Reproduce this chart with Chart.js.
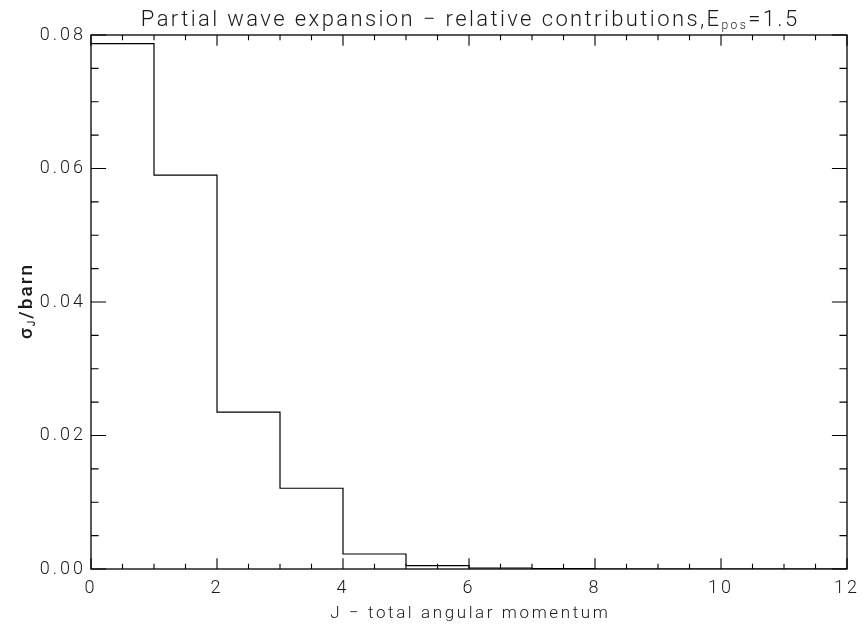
<!DOCTYPE html>
<html>
<head>
<meta charset="utf-8">
<script src="https://cdn.jsdelivr.net/npm/chart.js@4/dist/chart.umd.min.js"></script>
<style>
  html, body { margin: 0; padding: 0; background: #fff; }
</style>
</head>
<body>
<canvas id="c" width="866" height="624"></canvas>
<script>
// Partial-wave cross sections sigma_J (barn) for total angular momentum J
const jEdges = [0, 1, 2, 3, 4, 5, 6, 7, 8, 9, 10, 11, 12];
const sigmaJ = [0.0787, 0.0590, 0.0235, 0.0121, 0.00225, 0.0005, 0.00015, 0.00005, 0, 0, 0, 0];
const xTickLabels = ['0', '2', '4', '6', '8', '10', '12'];
const yTickLabels = ['0.00', '0.02', '0.04', '0.06', '0.08'];
const titleHead = 'Partial wave expansion \u2212 relative contributions,E';
const titleSub = 'pos';
const titleTail = '=1.5';
const xTitle = 'J \u2212 total angular momentum';
const yTitleHead = '\u03c3';
const yTitleSub = 'J';
const yTitleTail = '/barn';

const FONT = 'Roboto, "DejaVu Sans", sans-serif';
const INK = '#1a1a1a';

// step outline: level sigma_J spans J .. J+1
const stepPoints = jEdges.map((j, i) => ({ x: j, y: sigmaJ[Math.min(i, sigmaJ.length - 1)] }));

// frame with inward major/minor ticks on all four sides
const framePlugin = {
  id: 'frame',
  afterDraw(chart) {
    const { ctx, chartArea: a, scales: { x, y } } = chart;
    ctx.save();
    ctx.strokeStyle = '#000';
    ctx.lineWidth = 1.3;
    ctx.strokeRect(a.left, a.top, a.right - a.left, a.bottom - a.top);
    ctx.lineWidth = 1.1;
    const w = a.right - a.left, h = a.bottom - a.top;
    const xStep = x.ticks[1].value - x.ticks[0].value;
    const xMinor = xStep / 4;
    const xMaj = 0.02 * h, xMin = xMaj / 2;
    for (let k = 0, v = x.min; v <= x.max + 1e-9; v = x.min + (++k) * xMinor) {
      const px = x.getPixelForValue(v);
      const len = k % 4 === 0 ? xMaj : xMin;
      ctx.beginPath();
      ctx.moveTo(px, a.bottom); ctx.lineTo(px, a.bottom - len);
      ctx.moveTo(px, a.top); ctx.lineTo(px, a.top + len);
      ctx.stroke();
    }
    const yStep = y.ticks[1].value - y.ticks[0].value;
    const yMinor = yStep / 4;
    const yMaj = 0.02 * w, yMin = yMaj / 2;
    for (let k = 0, v = y.min; v <= y.max + 1e-9; v = y.min + (++k) * yMinor) {
      const py = y.getPixelForValue(v);
      const len = k % 4 === 0 ? yMaj : yMin;
      ctx.beginPath();
      ctx.moveTo(a.left, py); ctx.lineTo(a.left + len, py);
      ctx.moveTo(a.right, py); ctx.lineTo(a.right - len, py);
      ctx.stroke();
    }
    ctx.restore();
  }
};

// text runs with subscripts, centred on cx at baseline cy
function drawRich(ctx, parts, size, cx, cy, spacing, weight) {
  ctx.letterSpacing = spacing + 'px';
  const fontFor = p => `${weight} ${p.sub ? Math.round(size * 0.55) : size}px ${FONT}`;
  let total = 0;
  const widths = parts.map(p => {
    ctx.font = fontFor(p);
    const wd = ctx.measureText(p.text).width;
    total += wd;
    return wd;
  });
  total -= spacing;
  let x0 = cx - total / 2;
  parts.forEach((p, i) => {
    ctx.font = fontFor(p);
    ctx.fillText(p.text, x0, p.sub ? cy + size * 0.14 : cy);
    x0 += widths[i];
  });
  ctx.letterSpacing = '0px';
}

const titlePlugin = {
  id: 'titles',
  afterDraw(chart) {
    const { ctx, chartArea: a } = chart;
    ctx.save();
    ctx.fillStyle = INK;
    ctx.textBaseline = 'alphabetic';
    ctx.textAlign = 'left';
    const cx = (a.left + a.right) / 2;
    drawRich(ctx, [{ text: titleHead }, { text: titleSub, sub: true }, { text: titleTail }], 22, cx, 26, 2.4, 300);
    drawRich(ctx, [{ text: xTitle }], 17, cx, 618, 2.6, 300);
    ctx.translate(32, (a.top + a.bottom) / 2);
    ctx.rotate(-Math.PI / 2);
    drawRich(ctx, [{ text: yTitleHead }, { text: yTitleSub, sub: true }, { text: yTitleTail }], 19, 0, 0, 2, 500);
    ctx.restore();
  }
};

// wider tracking for the axis tick labels
const trackingPlugin = {
  id: 'tracking',
  beforeDraw(chart) { chart.ctx.letterSpacing = '3px'; },
  afterDatasetsDraw(chart) { chart.ctx.letterSpacing = '0px'; }
};

new Chart(document.getElementById('c'), {
  type: 'line',
  data: {
    datasets: [{
      data: stepPoints,
      stepped: true,
      borderColor: '#000',
      borderWidth: 1.2,
      pointRadius: 0,
      fill: false
    }]
  },
  options: {
    responsive: false,
    animation: false,
    devicePixelRatio: 1,
    layout: { padding: { left: 0, top: 35, right: 15, bottom: 0 } },
    plugins: { legend: { display: false }, tooltip: { enabled: false }, title: { display: false } },
    scales: {
      x: {
        type: 'linear', min: 0, max: 12,
        grid: { display: false, drawTicks: false },
        border: { display: false },
        ticks: {
          stepSize: 2, padding: 9, color: INK, maxRotation: 0,
          font: { family: FONT, size: 18, weight: 300 },
          callback: (v, i) => xTickLabels[i]
        },
        afterFit(s) { s.height = 55; }
      },
      y: {
        type: 'linear', min: 0, max: 0.08,
        grid: { display: false, drawTicks: false },
        border: { display: false },
        ticks: {
          stepSize: 0.02, padding: 5, color: INK,
          font: { family: FONT, size: 18, weight: 300 },
          callback: (v, i) => yTickLabels[i]
        },
        afterFit(s) { s.width = 91; }
      }
    }
  },
  plugins: [trackingPlugin, framePlugin, titlePlugin]
});
</script>
</body>
</html>
